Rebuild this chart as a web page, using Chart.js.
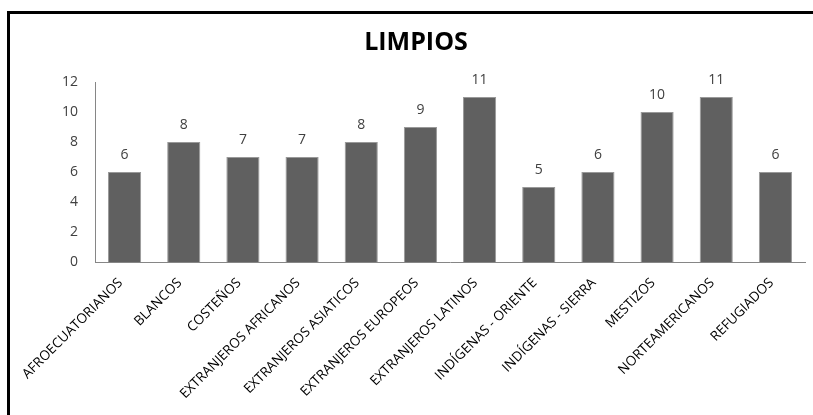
<!DOCTYPE html>
<html>
<head>
<meta charset="utf-8">
<script src="https://cdn.jsdelivr.net/npm/chart.js@4.4.0/dist/chart.umd.min.js"></script>
<style>
  html, body { margin: 0; padding: 0; background: #fff; }
  #wrap { position: relative; width: 813px; height: 415px; overflow: hidden; }
  #frame {
    position: absolute; left: 7px; top: 11px; width: 820px; height: 420px;
    border: 3px solid #000; box-sizing: border-box; pointer-events: none;
  }
</style>
</head>
<body>
<div id="wrap">
  <canvas id="chart_limpios" width="813" height="415"></canvas>
  <div id="frame"></div>
</div>
<script>
var categories = [
    'AFROECUATORIANOS', 'BLANCOS', 'COSTEÑOS', 'EXTRANJEROS AFRICANOS',
    'EXTRANJEROS ASIATICOS', 'EXTRANJEROS EUROPEOS', 'EXTRANJEROS LATINOS',
    'INDÍGENAS - ORIENTE', 'INDÍGENAS - SIERRA', 'MESTIZOS',
    'NORTEAMERICANOS', 'REFUGIADOS'
];
var limpios = [6, 8, 7, 7, 8, 9, 11, 5, 6, 10, 11, 6];
var yTicks = [0, 2, 4, 6, 8, 10, 12];
var chartTitle = 'LIMPIOS';

// title + numbers above each bar
var extraText = {
    id: 'extraText',
    afterDatasetsDraw: function (chart) {
        var ctx = chart.ctx;
        var meta = chart.getDatasetMeta(0);
        ctx.save();
        ctx.textAlign = 'center';
        ctx.textBaseline = 'middle';
        ctx.font = 'bold 25px "Open Sans", sans-serif';
        ctx.fillStyle = '#000';
        ctx.fillText(chartTitle, 416, 43);
        ctx.font = '14px "Open Sans", sans-serif';
        ctx.fillStyle = '#404040';
        meta.data.forEach(function (bar, i) {
            ctx.fillText(chart.data.datasets[0].data[i], bar.x, bar.y - 17);
        });
        ctx.restore();
    }
};

var ctx = document.getElementById('chart_limpios').getContext('2d');
new Chart(ctx, {
    type: 'bar',
    data: {
        labels: categories,
        datasets: [{
            label: chartTitle,
            data: limpios,
            backgroundColor: '#606060',
            borderColor: '#999999',
            borderWidth: 1,
            categoryPercentage: 1,
            barPercentage: 0.56
        }]
    },
    options: {
        responsive: false,
        animation: false,
        layout: { padding: { left: 0, right: 8, top: 82, bottom: 0 } },
        plugins: {
            legend: { display: false },
            tooltip: { enabled: false },
            title: { display: false }
        },
        scales: {
            x: {
                grid: { display: false },
                border: { display: true, color: '#868686' },
                ticks: {
                    color: '#000',
                    font: { family: '"Open Sans", sans-serif', size: 13.5 },
                    maxRotation: 45,
                    minRotation: 45,
                    autoSkip: false,
                    padding: 5,
                    labelOffset: -4
                },
                afterFit: function (scale) { scale.height = 153; }
            },
            y: {
                min: 0,
                max: 12,
                grid: { display: false },
                border: { display: true, color: '#868686' },
                afterBuildTicks: function (scale) {
                    scale.ticks = yTicks.map(function (v) { return { value: v }; });
                },
                ticks: {
                    color: '#404040',
                    font: { family: '"Open Sans", sans-serif', size: 14 },
                    padding: 9
                },
                afterFit: function (scale) { scale.width = 95; }
            }
        }
    },
    plugins: [extraText]
});
</script>
</body>
</html>
